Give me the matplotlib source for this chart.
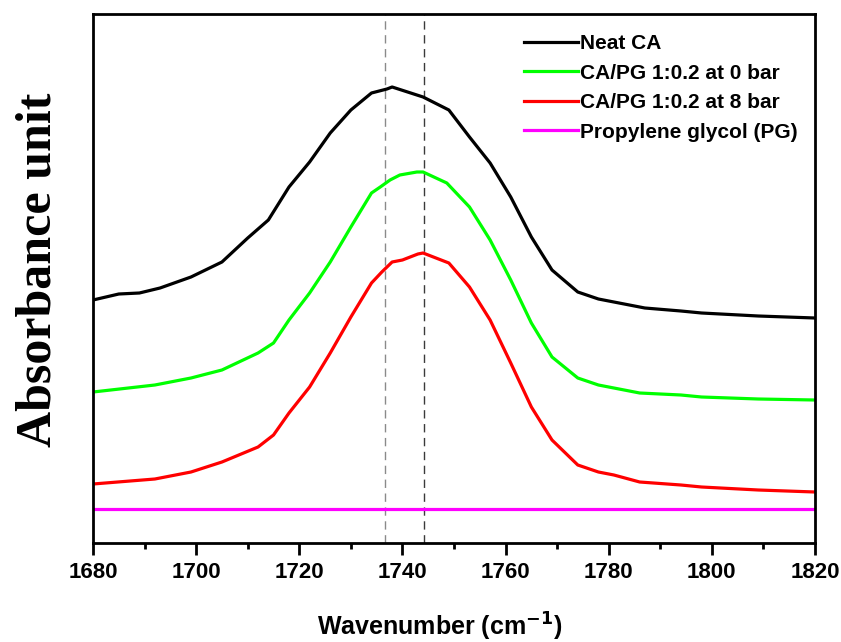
import matplotlib
matplotlib.use("Agg")
import matplotlib.pyplot as plt
from matplotlib.ticker import MultipleLocator

# ---- data (arbitrary absorbance units) ----
wn_black = [1680, 1685, 1689, 1693, 1699, 1705, 1710, 1714, 1718, 1722, 1726, 1730, 1734, 1737,
            1738, 1744, 1749, 1753, 1757, 1761, 1765, 1769, 1774, 1778, 1781, 1787, 1794, 1798,
            1809, 1820]
abs_black = [2.43, 2.49, 2.50, 2.55, 2.66, 2.81, 3.05, 3.23, 3.56, 3.81, 4.10, 4.33, 4.50, 4.54,
             4.56, 4.46, 4.33, 4.06, 3.80, 3.46, 3.06, 2.73, 2.51, 2.44, 2.41, 2.35, 2.32, 2.30,
             2.27, 2.25]

wn_green = [1680, 1692, 1699, 1705, 1712, 1715, 1718, 1722, 1726, 1730, 1734, 1735.7, 1737.6,
            1739.5, 1742.8, 1744, 1748.6, 1753, 1757, 1761, 1765, 1769, 1774, 1778, 1781, 1786,
            1794, 1798, 1809, 1820]
abs_green = [1.51, 1.58, 1.65, 1.73, 1.90, 2.00, 2.23, 2.50, 2.81, 3.16, 3.50, 3.56, 3.63,
             3.68, 3.71, 3.71, 3.60, 3.36, 3.03, 2.63, 2.20, 1.86, 1.65, 1.58, 1.55, 1.50,
             1.48, 1.46, 1.44, 1.43]

wn_red = [1680, 1692, 1699, 1705, 1712, 1715, 1718, 1722, 1726, 1730, 1734, 1736, 1738, 1740,
          1743, 1744, 1749, 1753, 1757, 1761, 1765, 1769, 1774, 1778, 1781, 1786, 1794, 1798,
          1809, 1820]
abs_red = [0.59, 0.64, 0.71, 0.81, 0.96, 1.08, 1.30, 1.56, 1.90, 2.26, 2.60, 2.71, 2.81, 2.83,
           2.89, 2.90, 2.80, 2.56, 2.23, 1.80, 1.36, 1.03, 0.78, 0.71, 0.68, 0.61, 0.58, 0.56,
           0.53, 0.51]

wn_pg = [1680, 1820]
abs_pg = [0.34, 0.34]

labels = ["Neat CA", "CA/PG 1:0.2 at 0 bar", "CA/PG 1:0.2 at 8 bar", "Propylene glycol (PG)"]
colors = ["#000000", "#00ff00", "#ff0000", "#ff00ff"]
ref_lines = [1736.7, 1744.2]

# ---- figure ----
fig = plt.figure(figsize=(8.41, 6.42), dpi=100)
ax = fig.add_axes([0.1106, 0.1542, 0.8585, 0.824])

series = [(wn_black, abs_black), (wn_green, abs_green), (wn_red, abs_red), (wn_pg, abs_pg)]
for (x, y), lab, c in zip(series, labels, colors):
    ax.plot(x, y, color=c, lw=2.3, label=lab, solid_joinstyle="round")

ax.axvline(ref_lines[0], color="#8a8a8a", lw=1.0, ls=(0, (6, 4)), zorder=0)
ax.axvline(ref_lines[1], color="#3a3a3a", lw=1.0, ls=(0, (6, 4)), zorder=0)

ax.set_xlim(1680, 1820)
ax.set_ylim(0, 5.29)
ax.xaxis.set_major_locator(MultipleLocator(20))
ax.xaxis.set_minor_locator(MultipleLocator(10))
ax.set_yticks([])

for s in ax.spines.values():
    s.set_linewidth(2.0)

ax.tick_params(axis="x", which="major", direction="out", length=8.5, width=2.0, pad=5)
ax.tick_params(axis="x", which="minor", direction="out", length=4.3, width=2.0)
for lab in ax.get_xticklabels():
    lab.set_fontfamily("Liberation Sans")
    lab.set_fontweight("bold")
    lab.set_fontsize(16)

ax.set_xlabel("Wavenumber (cm$^{\\mathbf{-1}}$)", fontfamily="Liberation Sans",
              fontweight="bold", fontsize=18)
ax.xaxis.set_label_coords(0.48, -0.128)
ax.set_ylabel("Absorbance unit", fontfamily="Liberation Serif", fontweight="bold",
              fontsize=36)
ax.yaxis.set_label_coords(-0.044, 0.516)

leg = ax.legend(loc="upper left", bbox_to_anchor=(0.571, 0.997), frameon=False,
                handlelength=2.6, handletextpad=0.1, labelspacing=0.5,
                prop={"family": "Liberation Sans", "weight": "bold", "size": 15})

fig.savefig("out.png", dpi=100)
